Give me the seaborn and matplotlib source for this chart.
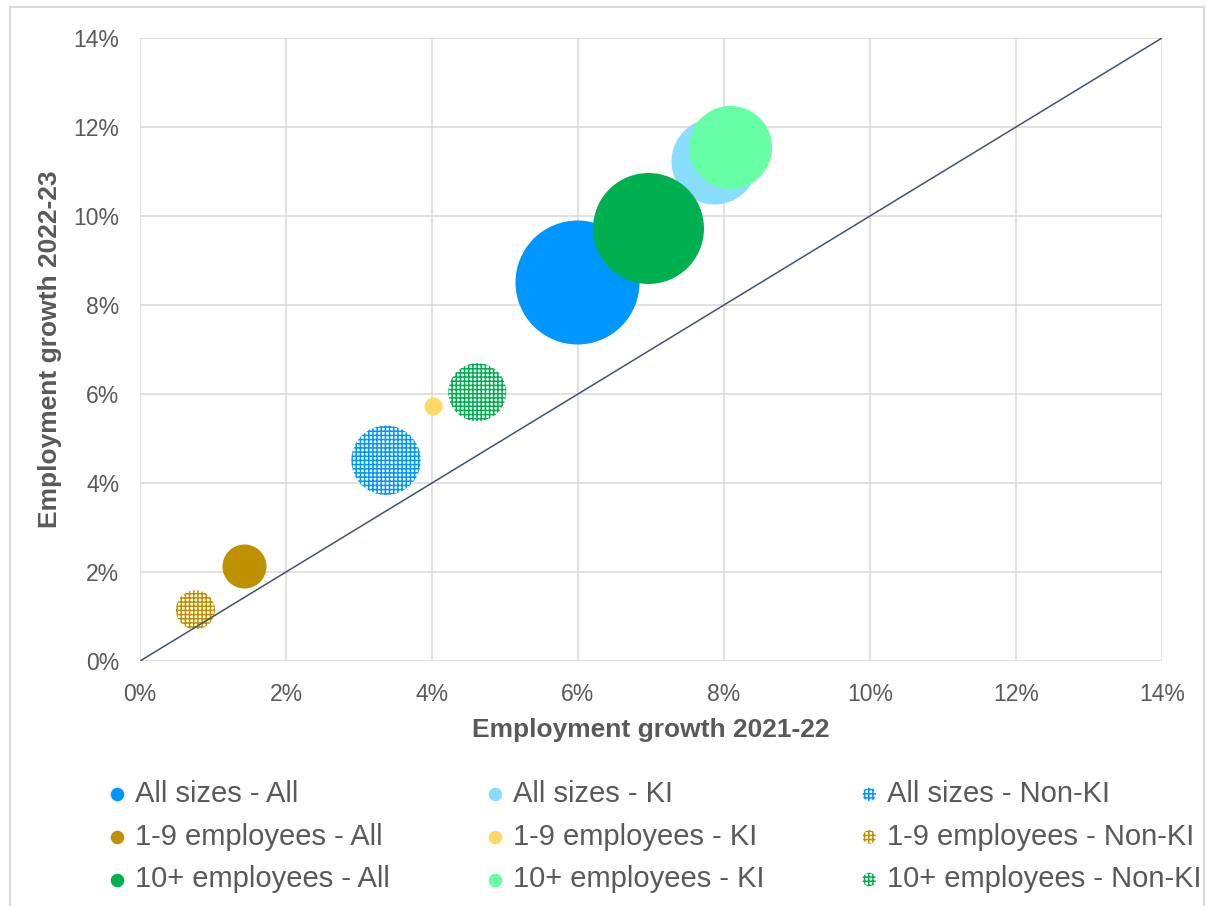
import numpy as np
import pandas as pd
import matplotlib
matplotlib.use('Agg')
import matplotlib.pyplot as plt
from matplotlib.patches import Rectangle
from matplotlib.ticker import PercentFormatter
import seaborn as sns

sns.set_theme(style='whitegrid')
plt.rcParams['font.family'] = ['Liberation Sans', 'DejaVu Sans']
plt.rcParams['hatch.linewidth'] = 1.1

# series, in the order they are drawn
series_names = [
    'All sizes - All', 'All sizes - KI', 'All sizes - Non-KI',
    '1-9 employees - All', '1-9 employees - KI', '1-9 employees - Non-KI',
    '10+ employees - All', '10+ employees - KI', '10+ employees - Non-KI',
]
growth_2122 = [5.99, 7.86, 3.37, 1.43, 4.02, 0.76, 6.96, 8.08, 4.62]
growth_2223 = [8.52, 11.24, 4.51, 2.13, 5.74, 1.15, 9.73, 11.55, 6.04]
bubble_size = [100, 48.1, 31.3, 12.6, 2.1, 9.9, 80.1, 44.8, 21.9]
series_colors = ['#0096FF', '#89DDFF', '#0096FF',
                 '#BF9000', '#FFD966', '#BF9000',
                 '#00B050', '#66FFA6', '#00B050']
non_ki = [False, False, True, False, False, True, False, False, True]

df = pd.DataFrame({'series': series_names, 'x': growth_2122, 'y': growth_2223,
                   'size': bubble_size, 'color': series_colors, 'non_ki': non_ki})

TEXT = '#595959'
GRID = '#D9D9D9'
SIZE_SCALE = 79.7  # points^2 per unit of bubble size

fig = plt.figure(figsize=(12.06, 9.06), dpi=100)
ax = fig.add_axes([140 / 1206, 1 - 661 / 906, (1162 - 140) / 1206, (661 - 38) / 906])

legend_handles = []
for i, row in df.iterrows():
    pt = df.iloc[[i]]
    if row['non_ki']:
        style = dict(color='white', edgecolor=row['color'], hatch='++++')
    else:
        style = dict(color=row['color'], edgecolor=row['color'])
    sns.scatterplot(data=pt, x='x', y='y', s=row['size'] * SIZE_SCALE,
                    linewidth=0, ax=ax, zorder=3 + i, legend=False, **style)
    legend_handles.append(ax.scatter([], [], s=95, linewidths=0,
                                     label=row['series'], **style))

# 45 degree reference line
ax.plot([0, 14], [0, 14], color='#44546A', lw=1.1, zorder=20)

ax.set_xlim(0, 14)
ax.set_ylim(0, 14)
ax.set_xticks(np.arange(0, 15, 2))
ax.set_yticks(np.arange(0, 15, 2))
ax.xaxis.set_major_formatter(PercentFormatter(decimals=0))
ax.yaxis.set_major_formatter(PercentFormatter(decimals=0))
ax.grid(True, color=GRID, lw=1.1)
ax.set_axisbelow(True)
for sp in ax.spines.values():
    sp.set_visible(False)
ax.tick_params(axis='both', length=0, labelsize=16.5, labelcolor=TEXT)
ax.tick_params(axis='x', pad=15.5)
ax.tick_params(axis='y', pad=15)

ax.set_xlabel('Employment growth 2021-22', fontsize=19, fontweight='bold',
              color=TEXT, labelpad=9)
ax.set_ylabel('Employment growth 2022-23', fontsize=19, fontweight='bold',
              color=TEXT, labelpad=8)

# legend reads row by row, matplotlib fills column by column
order = [0, 3, 6, 1, 4, 7, 2, 5, 8]
fig.legend(handles=[legend_handles[k] for k in order], ncol=3, loc='upper left',
           bbox_to_anchor=(108 / 1206, 1 - 780 / 906), frameon=False,
           fontsize=21, labelcolor=TEXT, borderpad=0, borderaxespad=0,
           handlelength=0.6, handletextpad=0.32, columnspacing=3.3,
           labelspacing=0.5, scatterpoints=1)

# chart area border
fig.patches.append(Rectangle((10 / 1206, -0.05), 1194 / 1206, 1.05 - 7 / 906,
                             transform=fig.transFigure, fill=False,
                             edgecolor=GRID, lw=1.5))

fig.savefig('out.png', dpi=100)
